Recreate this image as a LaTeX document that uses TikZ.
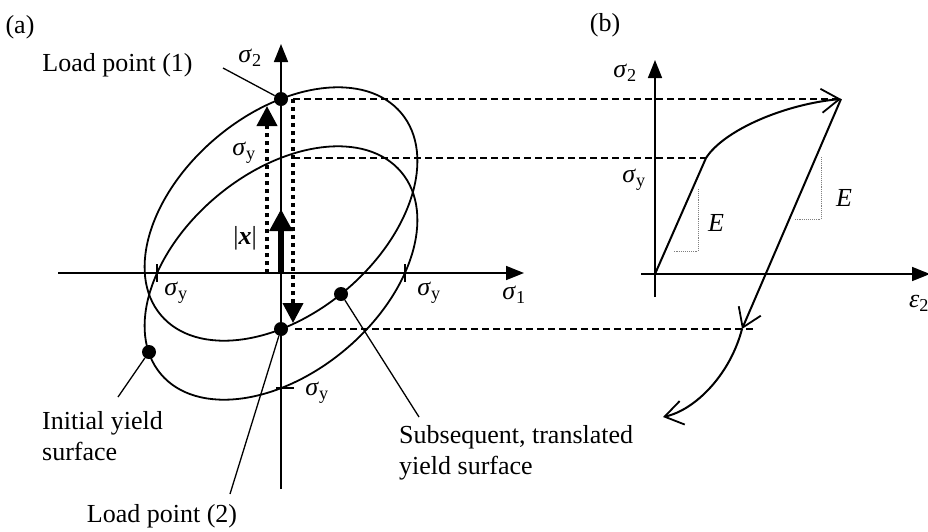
\documentclass[tikz,border=0pt]{standalone}
\usepackage{fontspec}
\setmainfont{Liberation Serif}
\usetikzlibrary{arrows.meta}
\newcommand{\sgm}[1]{\textit{σ}\textsubscript{#1}}
\begin{document}
\begin{tikzpicture}[x=1pt,y=-1pt,
  axisline/.style={line width=1.6pt,-{Triangle[length=18pt,width=14pt]}},
  ell/.style={line width=1.8pt},
  proj/.style={line width=1.6pt,dash pattern=on 7pt off 4pt},
  dotline/.style={line width=4pt,dash pattern=on 4pt off 4pt,-{Triangle[length=20pt,width=20pt]}},
  thickarrow/.style={line width=5.5pt,-{Triangle[length=22pt,width=22pt]}},
  leader/.style={line width=1.3pt},
  ldot/.style={circle,fill=black,inner sep=0pt,minimum size=14pt},
  lbl/.style={inner sep=0pt,font=\fontsize{26}{31}\selectfont},
  curve/.style={line width=2pt},
  barb/.style={-{Straight Barb[length=18pt,width=24pt,line width=1.8pt]}},
  tri/.style={gray,line width=0.9pt,densely dotted}]
\useasboundingbox[fill=white] (0,0) rectangle (928,531);

% panel labels
\node[lbl] (la) at (20,27) {(a)};
\node[lbl] (lb) at (605,25) {(b)};

% ---------- panel (a) ----------
\coordinate (O) at (281,273);
\coordinate (E1c) at (281,214);
\coordinate (s2bot) at (281,489);
\coordinate (s2top) at (281,44);
\coordinate (s1left) at (58,273);
\coordinate (s1right) at (524,273);
\draw[axisline] (s2bot) -- (s2top);
\draw[axisline] (s1left) -- (s1right);

\draw[ell,rotate around={40:(O)}] (O) ellipse [x radius=157pt,y radius=100pt];
\draw[ell,rotate around={40:(E1c)}] (E1c) ellipse [x radius=157pt,y radius=100pt];

% sigma_y ticks
\draw[leader] (157,264) -- (157,282);
\draw[leader] (405,264) -- (405,282);
\draw[leader] (276,388) -- (294,388);

% dotted arrows and back-stress arrow
\coordinate (dl0) at (267,273);
\coordinate (dl1) at (267,106);
\draw[dotline] (dl0) -- (dl1);
\coordinate (dr0) at (293,99);
\coordinate (dr1) at (293,323);
\draw[dotline] (dr0) -- (dr1);
\coordinate (xtip) at (281,209);
\draw[thickarrow] (O) -- (xtip);

% points
\node[ldot] (LP1) at (281,99) {};
\node[ldot] (LP2) at (281,329) {};
\node[ldot] (S1) at (341,294) {};
\node[ldot] (I1) at (149,352) {};

% leaders
\coordinate (L1a) at (223,68);
\draw[leader] (L1a) -- (LP1);
\coordinate (L2a) at (230,494);
\draw[leader] (L2a) -- (LP2);
\coordinate (Ia) at (118,397);
\draw[leader] (Ia) -- (I1);
\coordinate (Sa) at (419,417);
\draw[leader] (Sa) -- (S1);

% labels (a)
\node[lbl] (t1) at (117.5,65.6) {Load point (1)};
\node[lbl] (ts2a) at (250,58) {\sgm{2}};
\node[lbl] (tsyu) at (244,153) {\sgm{y}};
\node[lbl] (tx) at (245,238) {|\textbf{\textit{x}}|};
\node[lbl] (tsyl) at (176,293) {\sgm{y}};
\node[lbl] (tsyr) at (429,293) {\sgm{y}};
\node[lbl] (ts1) at (514,295) {\sgm{1}};
\node[lbl] (tsyb) at (317,393) {\sgm{y}};
\node[lbl,anchor=west,align=left] (tinit) at (42,436) {Initial yield\\surface};
\node[lbl] (t2) at (162,516) {Load point (2)};
\node[lbl,anchor=west,align=left] (tsub) at (399,453) {Subsequent, translated\\yield surface};

% ---------- panel (b) ----------
\coordinate (Ob) at (655,274);
\coordinate (bs2bot) at (655,297);
\coordinate (bs2top) at (655,60);
\coordinate (be2l) at (641,274);
\coordinate (be2r) at (930,274);
\draw[axisline] (bs2bot) -- (bs2top);
\draw[axisline] (be2l) -- (be2r);

\coordinate (Y) at (706,158);
\coordinate (P) at (841,99);
\coordinate (Q) at (742,329);
\coordinate (Bend) at (663,417);

% projection lines
\coordinate (d1) at (293,99);
\draw[proj] (d1) -- (P);
\coordinate (d2) at (293,158);
\draw[proj] (d2) -- (Y);
\coordinate (d3) at (295,329);
\coordinate (d3e) at (756,329);
\draw[proj] (d3) -- (d3e);

% stress-strain curve
\draw[curve] (Ob) -- (Y);
\draw[curve,barb] (Y) .. controls (724,130) and (785,104) .. (P);
\draw[curve,barb] (P) -- (Q);
\draw[curve,barb] (Q) .. controls (730,375) and (695,410) .. (Bend);

% slope triangles
\draw[tri] (698,189) -- (698,251) -- (673,251);
\draw[tri] (821,157) -- (821,219) -- (794,219);

% labels (b)
\node[lbl] (tbs2) at (625,73) {\sgm{2}};
\node[lbl] (tbsy) at (634,180) {\sgm{y}};
\node[lbl] (tE1) at (716,223) {\textit{E}};
\node[lbl] (tE2) at (844,198) {\textit{E}};
\node[lbl,anchor=west] (te2) at (909,303) {\textit{ε}\textsubscript{2}};
\end{tikzpicture}
\end{document}
